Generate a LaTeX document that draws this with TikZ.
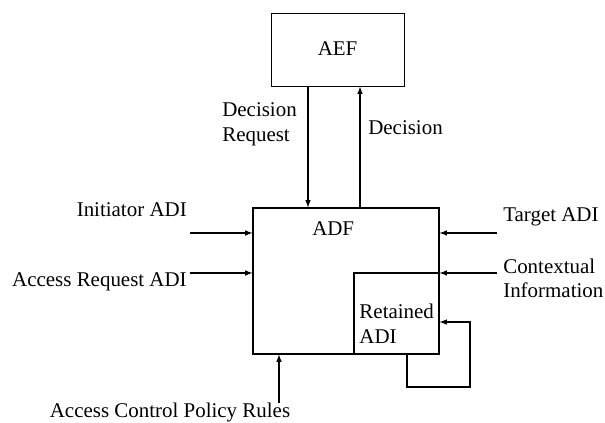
\documentclass[tikz,border=0pt]{standalone}
\usepackage{fontspec}
\setmainfont{Liberation Serif}
\usepackage{tikz}

\tikzset{
	blok/.style={draw=black, line width=0.8pt, solid, inner sep=0pt},
	strel/.style={draw=black, -latex, line width=0.8pt, solid},
	oznaka/.style={black, inner sep=0pt, align=left, font=\fontsize{14.9}{17.5}\selectfont},
}

\begin{document}
\begin{tikzpicture}
	\useasboundingbox (0.00,0.00) rectangle (15.125,10.55);
	% blokovi
	\node[blok, minimum width=3.325cm, minimum height=1.825cm] (aef) at (8.44,9.31) {};
	\node[oznaka] (aeftxt) at (8.44,9.33) {AEF};
	\node[blok, minimum width=4.65cm, minimum height=3.65cm] (adf) at (8.65,3.525) {};
	\node[oznaka] (adftxt) at (8.33,4.83) {ADF};
	\node[blok, minimum width=2.125cm, minimum height=2.025cm] (ret) at (9.9125,2.7125) {};
	\node[oznaka, anchor=west] (rettxt) at (8.98,2.45) {Retained\\ADI};
	% tocke
	\coordinate (zahtjev) at (7.70,0.00);
	\coordinate (odluka) at (9.00,0.00);
	\coordinate (ini) at (4.75,4.725);
	\coordinate (pristup) at (4.75,3.725);
	\coordinate (cilj) at (12.425,4.725);
	\coordinate (kontekst) at (12.425,3.725);
	\coordinate (pravila) at (6.975,0.475);
	\coordinate (petljaL) at (10.175,0.875);
	\coordinate (petljaD) at (11.75,0.875);
	\coordinate (petljaG) at (11.75,2.50);
	% strelice
	\draw[strel] (aef.south -| zahtjev) -- (adf.north -| zahtjev);
	\draw[strel] (adf.north -| odluka) -- (aef.south -| odluka);
	\draw[strel] (ini) -- (ini -| adf.west);
	\draw[strel] (pristup) -- (pristup -| adf.west);
	\draw[strel] (cilj) -- (cilj -| adf.east);
	\draw[strel] (kontekst) -- (kontekst -| adf.east);
	\draw[strel] (pravila) -- (pravila |- adf.south);
	\draw[strel] (ret.south -| petljaL) -- (petljaL) -- (petljaD) -- (petljaG) -- (petljaG -| ret.east);
	% natpisi
	\node[oznaka, anchor=west] (zahtjevtxt) at (5.55,7.44) {Decision\\Request};
	\node[oznaka, anchor=west] (odlukatxt) at (9.20,7.35) {Decision};
	\node[oznaka, anchor=east] (initxt) at (4.675,5.30) {Initiator ADI};
	\node[oznaka, anchor=east] (pristuptxt) at (4.675,3.50) {Access Request ADI};
	\node[oznaka, anchor=west] (ciljtxt) at (12.575,5.125) {Target ADI};
	\node[oznaka, anchor=west] (kontekstxt) at (12.575,3.59) {Contextual\\Information};
	\node[oznaka] (pravilatxt) at (4.25,0.25) {Access Control Policy Rules};
\end{tikzpicture}
\end{document}
